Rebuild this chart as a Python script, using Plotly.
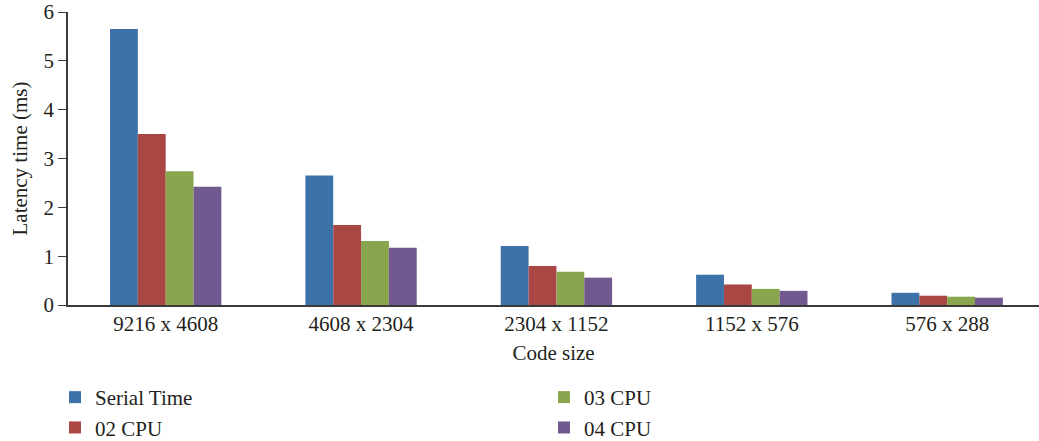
import plotly.graph_objects as go

categories = ["9216 x 4608", "4608 x 2304", "2304 x 1152", "1152 x 576", "576 x 288"]
serial_time = [5.65, 2.65, 1.21, 0.62, 0.25]
cpu_02 = [3.50, 1.64, 0.80, 0.42, 0.19]
cpu_03 = [2.74, 1.31, 0.68, 0.33, 0.17]
cpu_04 = [2.42, 1.17, 0.56, 0.29, 0.15]

series = [
    ("Serial Time", serial_time, "#3C72A8", "legend"),
    ("02 CPU", cpu_02, "#AA4643", "legend"),
    ("03 CPU", cpu_03, "#89A54E", "legend2"),
    ("04 CPU", cpu_04, "#71588F", "legend2"),
]

FONT = "Liberation Serif, Times New Roman, serif"
TXT = "#231F20"
FS = 21

fig = go.Figure()
for name, vals, color, leg in series:
    fig.add_trace(go.Bar(x=categories, y=vals, name=name, marker_color=color,
                         marker_line_width=0, legend=leg))

leg_common = dict(xanchor="left", yanchor="top", orientation="v",
                  xref="container", yref="container",
                  font=dict(family=FONT, size=FS, color=TXT), tracegroupgap=0,
                  itemwidth=30, bgcolor="rgba(0,0,0,0)")

fig.update_layout(
    width=1039, height=441,
    margin=dict(l=68, r=0, t=12, b=136, autoexpand=False),
    paper_bgcolor="white", plot_bgcolor="white",
    font=dict(family=FONT, size=FS, color=TXT),
    barmode="group", bargap=0.43, bargroupgap=0,
    showlegend=True,
    legend=dict(x=55 / 1039, y=1 - 377 / 441, **leg_common),
    legend2=dict(x=544 / 1039, y=1 - 377 / 441, **leg_common),
)
fig.update_xaxes(
    range=[-0.5, 4.47], showline=True, linecolor="#3A3A3A", linewidth=2,
    ticks="", showgrid=False, automargin=True, ticklabelstandoff=-1,
    tickfont=dict(family=FONT, size=FS, color=TXT),
    title=dict(text="Code size", standoff=10, font=dict(family=FONT, size=FS, color=TXT)),
)
fig.update_yaxes(
    range=[0, 6], dtick=1, showline=True, linecolor="#3A3A3A", linewidth=1.5,
    ticks="outside", ticklen=8, tickcolor="#3A3A3A", showgrid=False, zeroline=False,
    automargin=False,
    tickfont=dict(family=FONT, size=FS, color=TXT),
)
fig.add_annotation(
    text="Latency time (ms)", textangle=-90, showarrow=False,
    xref="paper", yref="paper", x=(19 - 68) / 971, y=0.5,
    xanchor="center", yanchor="middle",
    font=dict(family=FONT, size=FS, color=TXT),
)

fig.write_html("out.html", post_script="document.body.style.margin='0';",
               config={"displayModeBar": False})
